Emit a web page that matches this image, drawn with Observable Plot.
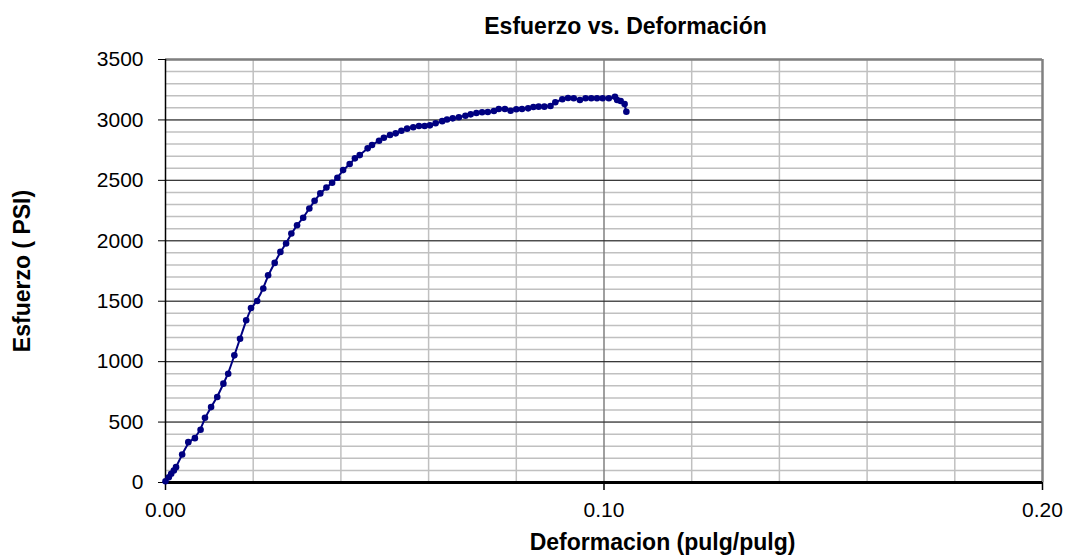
<!DOCTYPE html>
<html>
<head>
<meta charset="utf-8">
<script src="https://cdn.jsdelivr.net/npm/d3@7"></script>
<script src="https://cdn.jsdelivr.net/npm/@observablehq/plot@0.6"></script>
<style>
  body { margin: 0; background: #fff; }
  #chart svg { font-family: "Liberation Sans", Arial, sans-serif; }
</style>
</head>
<body>
<div id="chart"></div>
<script>
const deformacion = [0, 0.00075, 0.0013, 0.0019, 0.0024, 0.0038, 0.0052, 0.0067, 0.0080, 0.0090,
  0.0104, 0.0118, 0.0132, 0.0143, 0.0157, 0.0170, 0.0184, 0.0195, 0.0209, 0.0223,
  0.0234, 0.0249, 0.0262, 0.0275, 0.0287, 0.0300, 0.0314, 0.0328, 0.0340, 0.0353,
  0.0367, 0.0380, 0.0392, 0.0405, 0.0420, 0.0432, 0.0443, 0.0461, 0.0471, 0.0487,
  0.0498, 0.0512, 0.0525, 0.0538, 0.0551, 0.0565, 0.0578, 0.0591, 0.0603, 0.0616,
  0.0631, 0.0642, 0.0655, 0.0669, 0.0684, 0.0696, 0.0709, 0.0722, 0.0735, 0.0749,
  0.0760, 0.0774, 0.0787, 0.0800, 0.0813, 0.0827, 0.0839, 0.0851, 0.0864, 0.0878,
  0.0889, 0.0905, 0.0918, 0.0931, 0.0945, 0.0958, 0.0971, 0.0984, 0.0997, 0.1011,
  0.1025, 0.1030, 0.1038, 0.1047, 0.1051];
const esfuerzo = [10, 44, 72, 99, 127, 232, 334, 367, 437, 536,
  624, 707, 818, 900, 1052, 1190, 1342, 1444, 1502, 1605,
  1715, 1817, 1908, 1977, 2060, 2129, 2190, 2267, 2331, 2392,
  2441, 2480, 2521, 2585, 2635, 2682, 2709, 2765, 2792, 2828,
  2852, 2875, 2889, 2910, 2928, 2939, 2950, 2950, 2955, 2972,
  2990, 3003, 3013, 3022, 3035, 3046, 3057, 3063, 3065, 3074,
  3090, 3090, 3076, 3088, 3090, 3096, 3107, 3110, 3110, 3115,
  3146, 3171, 3181, 3179, 3165, 3179, 3179, 3179, 3179, 3179,
  3192, 3165, 3157, 3132, 3068];
const xTicks = [0, 0.1, 0.2];
const yTicks = [0, 500, 1000, 1500, 2000, 2500, 3000, 3500];
const yMinor = d3.range(0, 3501, 100);
const xMinor = [0.02, 0.04, 0.06, 0.08, 0.12, 0.14, 0.16, 0.18];
const titulo = "Esfuerzo vs. Deformación";
const tituloX = "Deformacion (pulg/pulg)";
const tituloY = "Esfuerzo ( PSI)";

const data = deformacion.map((d, i) => ({x: d, y: esfuerzo[i]}));

const chart = Plot.plot({
  width: 1068,
  height: 555,
  marginLeft: 165,
  marginRight: 26,
  marginTop: 59,
  marginBottom: 73,
  style: {fontFamily: '"Liberation Sans", Arial, sans-serif', fontSize: "21px", color: "#000", background: "#fff"},
  x: {domain: [0, 0.2]},
  y: {domain: [0, 3500]},
  marks: [
    Plot.gridY(yMinor, {stroke: "#c0c0c0", strokeOpacity: 1, strokeWidth: 1.5}),
    Plot.gridX(xMinor, {stroke: "#c0c0c0", strokeOpacity: 1, strokeWidth: 1.5}),
    Plot.gridX([0.1], {stroke: "#808080", strokeOpacity: 1, strokeWidth: 1.5}),
    Plot.gridY(yTicks.slice(1, -1), {stroke: "#222", strokeOpacity: 1, strokeWidth: 1}),
    Plot.ruleY([3500], {stroke: "#808080", strokeWidth: 2.5}),
    Plot.ruleX([0.2], {stroke: "#808080", strokeWidth: 2.5}),
    Plot.ruleX([0], {stroke: "#000", strokeWidth: 1.5}),
    Plot.ruleY([0], {stroke: "#000", strokeWidth: 3}),
    Plot.axisX(xTicks, {tickFormat: d3.format(".2f"), tickSize: 8, tickPadding: 12, fontSize: 21, label: null, strokeWidth: 1.5}),
    Plot.axisY(yTicks, {tickFormat: d3.format("d"), tickSize: 7, tickPadding: 15, fontSize: 21, label: null}),
    Plot.line(data, {x: "x", y: "y", stroke: "#000080", strokeWidth: 2, curve: "basis"}),
    Plot.dot(data, {x: "x", y: "y", fill: "#000080", r: 3.3}),
    Plot.text([titulo], {frameAnchor: "top-left", dx: 625 - 165, dy: -26, fontSize: 23, fontWeight: "bold", textAnchor: "middle", lineAnchor: "bottom"}),
    Plot.text([tituloX], {frameAnchor: "bottom-left", dx: 662 - 165, dy: 67, fontSize: 23, fontWeight: "bold", textAnchor: "middle", lineAnchor: "bottom"}),
    Plot.text([tituloY], {frameAnchor: "left", dx: -(165 - 22), dy: 0, fontSize: 23, fontWeight: "bold", rotate: -90, textAnchor: "middle"})
  ]
});
document.getElementById("chart").appendChild(chart);
</script>
</body>
</html>
